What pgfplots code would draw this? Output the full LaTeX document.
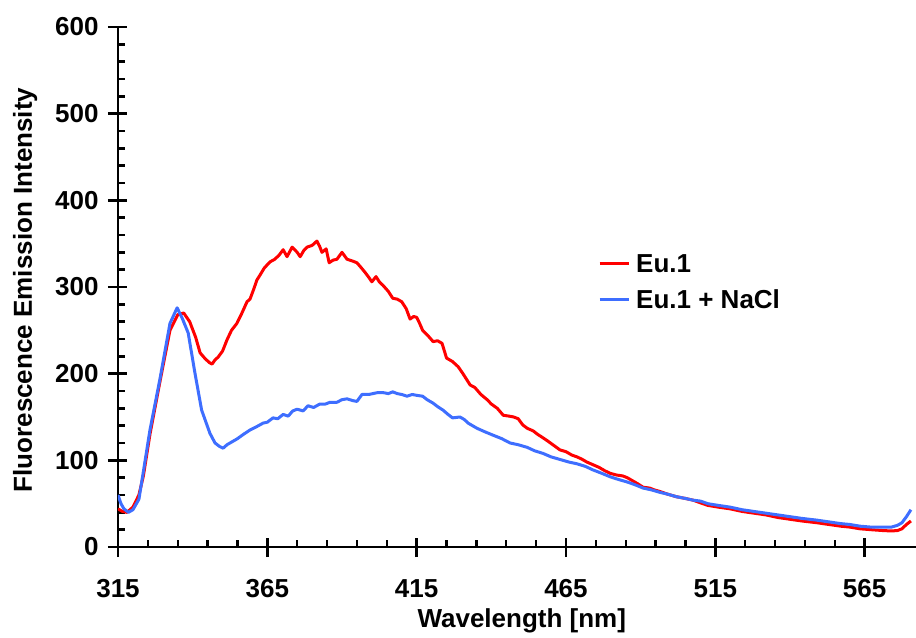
\documentclass[border=0pt]{standalone}
\usepackage{fontspec}
\setmainfont{Liberation Sans}
\usepackage{pgfplots}
\pgfplotsset{compat=1.18}
\definecolor{myred}{RGB}{255,0,0}
\definecolor{myblue}{RGB}{62,110,255}
\newcommand{\lblfont}{\fontsize{26bp}{31bp}\selectfont\bfseries}
\begin{document}
\begin{tikzpicture}
\path[use as bounding box] (-118bp,-91bp) rectangle (798bp,547bp);
\begin{axis}[
  scale only axis, width=798bp, height=520bp,
  xmin=315, xmax=582.2, ymin=0, ymax=600,
  axis lines*=left,
  axis line style={line width=2.7bp, black, -},
  xtick={315,365,...,565}, ytick={0,100,...,600},
  minor x tick num=4, minor y tick num=4,
  tick align=inside,
  major tick length=9bp, minor tick length=7bp,
  tick style={line width=2.4bp, black},
  extra x ticks={315,365,...,565}, extra x tick labels={},
  extra y ticks={0,100,...,600}, extra y tick labels={},
  extra tick style={tick align=outside, major tick length=10bp},
  /pgf/number format/assume math mode=true,
  /pgf/number format/1000 sep={},
  tick label style={font=\lblfont},
  xticklabel style={yshift=-29bp},
  yticklabel style={xshift=-16bp},
  xlabel={Wavelength [nm]}, ylabel={Fluorescence Emission Intensity},
  label style={font=\lblfont},
  xlabel style={at={(axis description cs:0.506,-0.142)}, anchor=center},
  ylabel style={at={(axis description cs:-0.1165,0.494)}, anchor=center},
  legend style={draw=none, fill=none, inner sep=0pt, font=\lblfont,
    at={(axis description cs:0.6015,0.5635)}, anchor=north west,
    row sep=17bp, column sep=6bp,
    nodes={inner sep=0pt, text height=18.6bp, text depth=0pt}},
  legend cell align=left,
  legend image code/.code={\draw[#1, line width=3bp] (0bp,0bp) -- (29bp,0bp);},
]
\addplot[myred, mark=none, line width=3bp, line join=round] coordinates {
(315,44) (316.5,41) (318,40) (320,46) (322,60) (323.5,82) (325.7,130) (329,190)
(332.4,250) (335,268) (337,270) (339,260) (341,242) (342.5,224) (344,218) (345.5,213)
(346.5,211) (347.5,216) (348.5,219) (350,226) (351.5,239) (353,250) (354.8,258) (356.5,270)
(358.2,283) (359.2,286) (360.5,298) (361.5,308) (362.6,314) (364,322) (365.9,329) (367.5,332)
(369,337) (370.3,343) (371.6,335) (373.3,346) (375,340) (376,335) (377.2,342) (378.3,346)
(380,348) (381.6,353) (382.5,347) (383.3,340) (384.7,344) (385.7,328) (387,331) (388.3,332)
(390,340) (391.7,332) (393.5,330) (395,328) (396.5,322) (397.7,317) (399,311) (400,306)
(401.4,312) (402.5,306) (403.7,302) (405.5,295) (407,287) (408.5,286) (410,283) (411.5,275)
(412.8,263) (414,266) (415,265) (416,258) (417,250) (419,243) (420.5,237) (422,238)
(423.5,235) (424.3,226) (425,218) (427,214) (428.9,208) (430.5,200) (432.9,187) (434.5,184)
(436.5,176) (438.6,170) (440,165) (442,160) (444,152) (446,151) (447.5,150) (449,148)
(450.5,141) (452,137) (454,134) (455.5,130) (457.3,126) (459,122) (461,117) (463,112)
(465,110) (467,106) (468.7,104) (470.5,101) (472,98) (474,95) (476,92) (478,88)
(479.8,85) (482,83) (484,82) (485.5,80) (487.5,76) (489,73) (490.8,69) (493,68)
(494.5,66) (496.5,64) (499,61) (502,58) (505,56) (507.6,54) (510,51) (512.5,48)
(516,46) (520,44) (524,41) (528,39) (532,37) (536,34) (540,32) (544,30)
(549,28) (553,26) (557,24) (560,23) (563.5,21) (567,20) (571,19) (574,18.5)
(576,19) (577.5,21) (579,26) (580.5,30)
};
\addlegendentry{Eu.1}
\addplot[myblue, mark=none, line width=3bp, line join=round] coordinates {
(315,60) (316,50) (317,44) (318.5,40) (320,43) (322,55) (323.4,85) (325.7,135)
(329,193) (332.4,258) (334.8,276) (336.5,264) (338.5,247) (340.8,200) (343,158) (345.8,131)
(347.5,120) (349,116) (350.2,114) (351.5,118) (353,121) (355,125) (357,130) (359.2,135)
(361.5,139) (363.6,143) (365,144) (366.9,149) (368.5,148) (370.3,153) (372,151) (373.5,157)
(375,159) (377,157) (378.6,163) (380.5,161) (382.6,165) (384.5,165) (386,167) (388.3,167)
(390,170) (391.7,171) (393.5,169) (395,168) (396.7,176) (399,176) (401.7,178) (404,178)
(405.5,177) (407,179) (408.5,177) (410,176) (411.8,174) (413.5,176) (415,175) (417,174)
(418.5,170) (420.5,166) (422,162) (423.8,158) (425.5,153) (427,149) (429.5,150) (431,147)
(432.2,143) (435.2,137) (437.8,133) (440.6,129) (443.5,125) (446.3,120) (449,118) (452,115)
(454.5,111) (457.3,108) (460,104) (463,101) (466,98) (468.7,96) (471.5,93) (474,89)
(477,85) (479.8,81) (482.5,78) (485.5,75) (488,72) (490.8,68) (493.5,66) (496.5,63)
(499,61) (502,58) (505,56) (507.6,54) (510,53) (512.5,50) (516,48) (520,46)
(524,43) (528,41) (532,39) (536,37) (540,35) (544,33) (549,31) (553,29)
(557,27) (560,26) (563.5,24) (567,23) (571,23) (574,23) (576,25) (577.5,28)
(579,35) (580.5,43)
};
\addlegendentry{Eu.1 + NaCl}
\end{axis}
\end{tikzpicture}
\end{document}
